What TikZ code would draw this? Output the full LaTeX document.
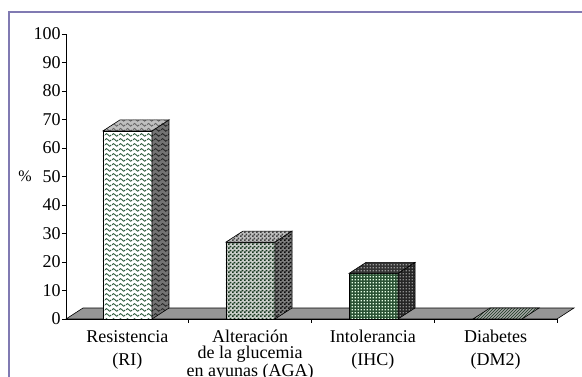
\documentclass[tikz,border=0pt]{standalone}
\usepackage{fontspec}
\setmainfont{Liberation Serif}
\usetikzlibrary{patterns}

% fill patterns of the bars
\pgfdeclarepatternformonly{waves}{\pgfpointorigin}{\pgfpoint{7pt}{5pt}}{\pgfpoint{7pt}{5pt}}{
	\pgfsetlinewidth{1pt}
	\pgfpathmoveto{\pgfpoint{0pt}{2.5pt}}
	\pgfpathcurveto{\pgfpoint{1.75pt}{4.6pt}}{\pgfpoint{1.75pt}{4.6pt}}{\pgfpoint{3.5pt}{2.5pt}}
	\pgfpathcurveto{\pgfpoint{5.25pt}{0.4pt}}{\pgfpoint{5.25pt}{0.4pt}}{\pgfpoint{7pt}{2.5pt}}
	\pgfusepath{stroke}
}
\pgfdeclarepatternformonly{checks}{\pgfpointorigin}{\pgfpoint{4pt}{4pt}}{\pgfpoint{4pt}{4pt}}{
	\pgfpathrectangle{\pgfpointorigin}{\pgfpoint{2pt}{2pt}}
	\pgfpathrectangle{\pgfpoint{2pt}{2pt}}{\pgfpoint{2pt}{2pt}}
	\pgfusepath{fill}
}
\pgfdeclarepatternformonly{holes}{\pgfpointorigin}{\pgfpoint{3pt}{3pt}}{\pgfpoint{3pt}{3pt}}{
	\pgfpathrectangle{\pgfpoint{0.8pt}{0.8pt}}{\pgfpoint{1.5pt}{1.5pt}}
	\pgfusepath{fill}
}

\definecolor{framecol}{RGB}{128,122,178}
\definecolor{wavegreen}{RGB}{50,95,65}
\definecolor{checkgreen}{RGB}{22,55,30}
\definecolor{gridgreen}{RGB}{42,82,52}
\definecolor{floorgray}{RGB}{150,150,150}

\tikzstyle{face}=[line width=0.6,draw=black]
\tikzstyle{ri front}=[face,preaction={fill=white},pattern=waves,pattern color=wavegreen]
\tikzstyle{ri side}=[face,preaction={fill=black!55},pattern=waves,pattern color=black!85]
\tikzstyle{ri top}=[face,preaction={fill=black!25},pattern=waves,pattern color=black!60]
\tikzstyle{aga front}=[face,preaction={fill=green!8!black!20},pattern=checks,pattern color=checkgreen]
\tikzstyle{aga side}=[face,preaction={fill=black!50},pattern=checks,pattern color=black!95]
\tikzstyle{aga top}=[face,preaction={fill=black!25},pattern=checks,pattern color=black!75]
\tikzstyle{ihc front}=[face,preaction={fill=gridgreen},pattern=holes,pattern color=green!10!white]
\tikzstyle{ihc side}=[face,preaction={fill=black!85},pattern=holes,pattern color=black!45]
\tikzstyle{ihc top}=[face,preaction={fill=black!80},pattern=holes,pattern color=black!40]
\tikzstyle{dm front}=[face,preaction={fill=black!35},pattern=north east lines,pattern color=checkgreen]
\tikzstyle{floor}=[face,fill=floorgray]
\tikzstyle{txt}=[font=\fontsize{18}{16}\selectfont,inner sep=0pt]

% one bar: x, value, front, side, top
\newcommand{\drawbar}[5]{%
	\draw[#3] (#1,0) rectangle ++(\w,#2*\s);
	\draw[#4] (#1+\w,0) -- ++(\dx,\dy) -- ++(0,#2*\s) -- ++(-\dx,-\dy) -- cycle;
	\draw[#5] (#1,#2*\s) -- ++(\dx,\dy) -- ++(\w,0) -- ++(-\dx,-\dy) -- cycle;
}

\begin{document}
\begin{tikzpicture}[x=1pt,y=1pt]
	\def\s{2.85}  % points per percent
	\def\w{49}    % bar width
	\def\dx{17}   % depth, x
	\def\dy{11}   % depth, y
	\def\c{122.75} % category width
	\useasboundingbox (-66,-57) rectangle (516,319);

	% Frame
	\draw[framecol,line width=1.5] (-57,307) rectangle (540,-80);

	% Floor
	\draw[floor] (0,0) -- (4*\c,0) -- ++(\dx,\dy) -- (\dx,\dy) -- cycle;

	% Bars
	\drawbar{37}{66}{ri front}{ri side}{ri top}
	\drawbar{160}{27}{aga front}{aga side}{aga top}
	\drawbar{283}{16}{ihc front}{ihc side}{ihc top}
	\draw[dm front] (407,0) -- ++(\w,0) -- ++(\dx,\dy) -- ++(-\w,0) -- cycle; % zero bar

	% Value axis
	\draw[line width=0.6] (0,0) -- (0,100*\s);
	\foreach \v in {0,10,...,100}
		\draw[line width=0.6] (-4,\v*\s) -- (0,\v*\s) node[txt,anchor=east,xshift=-5] (t\v) {\v};
	\node[txt,anchor=east,font=\fontsize{16}{16}\selectfont] (pct) at (-34,50*\s) {\%};

	% Category axis
	\draw[line width=0.6] (0,0) -- (4*\c,0);
	\foreach \i in {1,...,4}
		\draw[line width=0.6] (\i*\c,0) -- (\i*\c,-4);
	\node[txt,align=center,anchor=north] (ri) at (0.5*\c,-11) {Resistencia\\[7pt](RI)};
	\node[txt,align=center,anchor=north] (aga) at (1.5*\c,-11) {Alteración\\de la glucemia\\en ayunas (AGA)};
	\node[txt,align=center,anchor=north] (ihc) at (2.5*\c,-11) {Intolerancia\\[7pt](IHC)};
	\node[txt,align=center,anchor=north] (dm) at (3.5*\c,-11) {Diabetes\\[7pt](DM2)};
\end{tikzpicture}
\end{document}
